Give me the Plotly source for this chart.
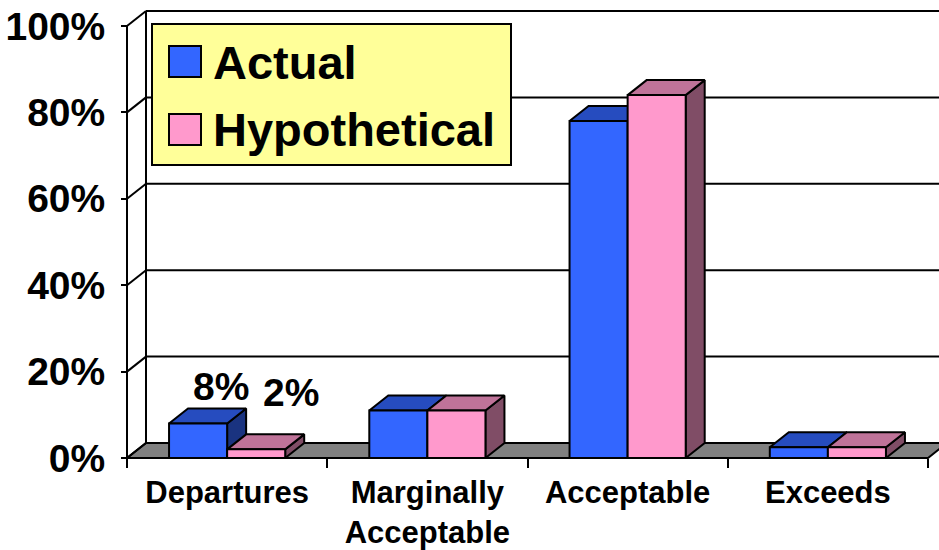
import plotly.graph_objects as go

# ---- data ----
categories = ["Departures", "Marginally<br>Acceptable", "Acceptable", "Exceeds"]
series_names = ["Actual", "Hypothetical"]
actual = [8, 11, 78, 2.5]
hypothetical = [2, 11, 84, 2.5]
y_ticks = [0, 20, 40, 60, 80, 100]
y_tick_text = [f"{v}%" for v in y_ticks]
value_labels_on = ["Departures"]  # categories whose bars carry value labels

# ---- styling ----
W, H = 939, 550
FONT = "Liberation Sans, Arial, sans-serif"
front_colors = ["#3366FF", "#FF99CC"]
top_colors = ["#264CBF", "#BF7399"]
side_colors = ["#1A3380", "#804D66"]
FLOOR = "#808080"

# pixel placement of the front plane (left edge, right edge, 0% line, 100% line)
PX_LEFT, PX_RIGHT = 127, 928
PY_ZERO, PY_TOP = 458, 26
n_cat = len(categories)
px_per_x = (PX_RIGHT - PX_LEFT) / n_cat
px_per_y = (PY_ZERO - PY_TOP) / 100.0
x_lo = -0.5 - PX_LEFT / px_per_x
x_hi = -0.5 + (W - PX_LEFT) / px_per_x
y_hi = PY_ZERO / px_per_y
y_lo = -(H - PY_ZERO) / px_per_y

# 3-D depth offset (right/up) in data units
DX = 19 / px_per_x
DY = 15 / px_per_y
BAR_W = 0.29
X_FRONT_L, X_FRONT_R = -0.5, n_cat - 0.5

fig = go.Figure()


def poly(xs, ys, fill):
    fig.add_trace(go.Scatter(
        x=xs + [xs[0]], y=ys + [ys[0]], mode="lines", fill="toself",
        fillcolor=fill, line=dict(color="black", width=2),
        hoverinfo="skip", showlegend=False))


series = [actual, hypothetical]
for i, cat in enumerate(categories):
    for s, vals in enumerate(series):
        h = vals[i]
        x0 = i - BAR_W + s * BAR_W
        x1 = x0 + BAR_W
        # right side face
        poly([x1, x1 + DX, x1 + DX, x1], [0, DY, h + DY, h], side_colors[s])
        # top face
        poly([x0, x1, x1 + DX, x0 + DX], [h, h, h + DY, h + DY], top_colors[s])
        # front face
        poly([x0, x1, x1, x0], [0, 0, h, h], front_colors[s])

# ---- walls, floor and gridlines ----
shapes = []
floor_path = (f"M {X_FRONT_L},0 L {X_FRONT_R},0 L {X_FRONT_R + DX},{DY} "
              f"L {X_FRONT_L + DX},{DY} Z")
shapes.append(dict(type="path", path=floor_path, xref="x", yref="y",
                   fillcolor=FLOOR, line=dict(color="black", width=2), layer="below"))
for v in y_ticks:
    # gridline on back wall
    shapes.append(dict(type="line", xref="x", yref="y", x0=X_FRONT_L + DX, x1=x_hi + 1,
                       y0=v + DY, y1=v + DY, line=dict(color="black", width=2), layer="below"))
    # gridline on side wall
    shapes.append(dict(type="line", xref="x", yref="y", x0=X_FRONT_L, x1=X_FRONT_L + DX,
                       y0=v, y1=v + DY, line=dict(color="black", width=2), layer="below"))
# back wall left edge
shapes.append(dict(type="line", xref="x", yref="y", x0=X_FRONT_L + DX, x1=X_FRONT_L + DX,
                   y0=DY, y1=100 + DY, line=dict(color="black", width=2), layer="below"))
# value axis line
shapes.append(dict(type="line", xref="x", yref="y", x0=X_FRONT_L, x1=X_FRONT_L,
                   y0=0, y1=100, line=dict(color="black", width=2), layer="below"))
# category axis line
shapes.append(dict(type="line", xref="x", yref="y", x0=X_FRONT_L, x1=X_FRONT_R,
                   y0=0, y1=0, line=dict(color="black", width=2), layer="below"))

# ---- legend box ----
def px(x):
    return x / W


def py(y):
    return 1 - y / H


shapes.append(dict(type="rect", xref="paper", yref="paper", x0=px(152), x1=px(511),
                   y0=py(165), y1=py(24), fillcolor="#FFFF99",
                   line=dict(color="black", width=2), layer="above"))
legend_rows = [61, 129]
annotations = []
for s, name in enumerate(series_names):
    yc = legend_rows[s]
    shapes.append(dict(type="rect", xref="paper", yref="paper", x0=px(169), x1=px(201),
                       y0=py(yc + 16), y1=py(yc - 15), fillcolor=front_colors[s],
                       line=dict(color="black", width=2), layer="above"))
    annotations.append(dict(xref="paper", yref="paper", x=px(212), y=py(yc + 1),
                            xanchor="left", yanchor="middle", text=name, showarrow=False,
                            borderpad=0,
                            font=dict(family=FONT, size=47, color="black", weight="bold")))

# ---- value labels ----
label_shift = [(13, 29), (25, 49)]
for cat in value_labels_on:
    i = categories.index(cat)
    for s, vals in enumerate(series):
        h = vals[i]
        xc = i - BAR_W / 2 + s * BAR_W + DX / 2
        dxs, dys = label_shift[s]
        annotations.append(dict(xref="x", yref="y", x=xc, y=h + DY / 2,
                                xanchor="center", yanchor="middle", xshift=dxs, yshift=dys,
                                text=f"{h:g}%", showarrow=False,
                                font=dict(family=FONT, size=39, color="black", weight="bold")))

fig.update_layout(
    width=W, height=H,
    margin=dict(l=0, r=0, t=0, b=0),
    paper_bgcolor="white", plot_bgcolor="white",
    showlegend=False,
    shapes=shapes,
    annotations=annotations,
    xaxis=dict(
        range=[x_lo, x_hi], domain=[0, 1], anchor="free", position=(H - PY_ZERO) / H,
        showgrid=False, zeroline=False, showline=False,
        tickmode="array", tickvals=list(range(n_cat)), ticktext=categories,
        ticks="", ticklabelstandoff=13,
        tickfont=dict(family=FONT, size=31, color="black", weight="bold"),
        minor=dict(tickmode="array", tickvals=[k - 0.5 for k in range(n_cat + 1)],
                   ticks="outside", ticklen=9, tickwidth=2, tickcolor="black"),
        fixedrange=True,
    ),
    yaxis=dict(
        range=[y_lo, y_hi], domain=[0, 1], anchor="free", position=PX_LEFT / W,
        showgrid=False, zeroline=False, showline=False,
        tickmode="array", tickvals=y_ticks, ticktext=y_tick_text,
        ticks="outside", ticklen=6, tickwidth=2, tickcolor="black",
        ticklabelstandoff=8,
        tickfont=dict(family=FONT, size=39, color="black", weight="bold"),
        fixedrange=True,
    ),
)

fig.write_html("out.html")
